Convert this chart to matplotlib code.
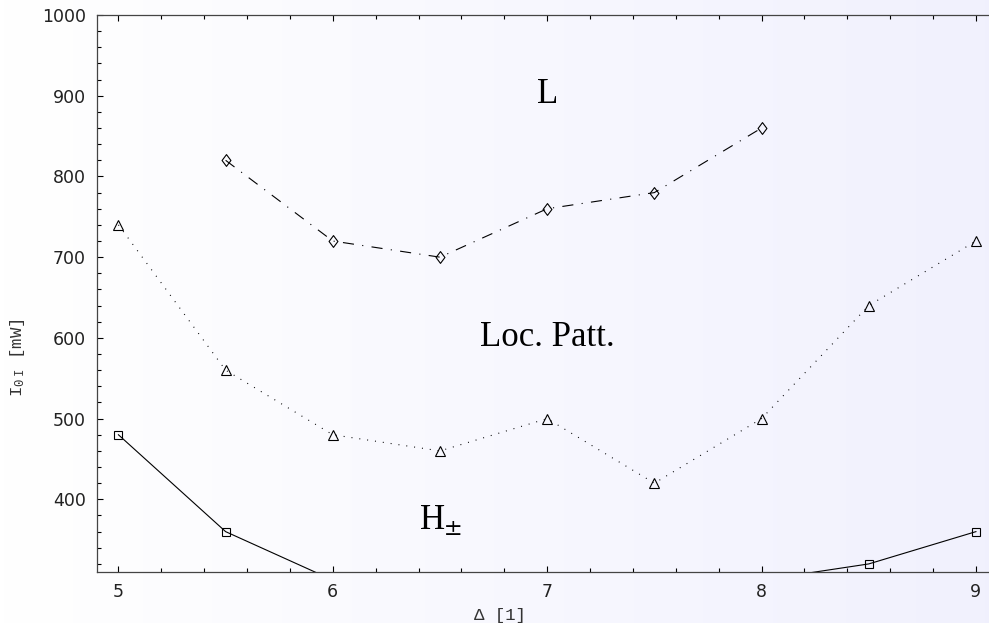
import numpy as np
import matplotlib.pyplot as plt
from matplotlib.ticker import MultipleLocator
from matplotlib.path import Path

# detuning values and threshold intensities for each boundary
delta = [5.0, 5.5, 6.0, 6.5, 7.0, 7.5, 8.0, 8.5, 9.0]
h_pm = [480, 360, 300, 285, 270, 285, 300, 320, 360]
loc_patt = [740, 560, 480, 460, 500, 420, 500, 640, 720]
delta_l = [5.5, 6.0, 6.5, 7.0, 7.5, 8.0]
l_curve = [820, 720, 700, 760, 780, 860]

plt.rcParams['lines.scale_dashes'] = False
plt.rcParams['mathtext.fontset'] = 'custom'
plt.rcParams['mathtext.rm'] = 'Liberation Mono'
plt.rcParams['mathtext.it'] = 'Liberation Mono'

# slightly narrow diamond
diamond = Path([(0, 1), (0.75, 0), (0, -1), (-0.75, 0), (0, 1)],
               [Path.MOVETO, Path.LINETO, Path.LINETO, Path.LINETO, Path.CLOSEPOLY])

fig = plt.figure(figsize=(9.89, 6.23), dpi=100)

# soft white-to-lavender background across the whole figure
bg = fig.add_axes([0, 0, 1, 1], zorder=-1)
grad = np.linspace(0, 1, 256).reshape(1, -1)
white = np.array([1.0, 1.0, 1.0])
lav = np.array([0.945, 0.945, 0.995])
img = white[None, None, :] * (1 - grad[..., None]) + lav[None, None, :] * grad[..., None]
bg.imshow(img, aspect='auto', extent=[0, 1, 0, 1])
bg.axis('off')

ax = fig.add_axes([97 / 989, 1 - 572 / 623, 892 / 989, 557 / 623])
ax.patch.set_alpha(0)

ax.plot(delta, h_pm, color='black', lw=0.8, marker='s', ms=6.3,
        mfc='none', mec='black', mew=0.8)
ax.plot(delta, loc_patt, color='black', lw=0.8, linestyle=(0, (0.7, 5)),
        marker='^', ms=6.5, mfc='none', mec='black', mew=0.8)
ax.plot(delta_l, l_curve, color='black', lw=0.8, linestyle=(0, (8, 6, 0.8, 6)),
        marker=diamond, ms=8.5, mfc='none', mec='black', mew=0.8)

ax.text(7.0, 902, "L", fontsize=25, family='Liberation Serif', ha='center', va='center')
ax.text(7.0, 600, "Loc. Patt.", fontsize=25, family='Liberation Serif', ha='center', va='center')
ax.text(6.4, 374, r"H$_{\pm}$", fontsize=25, family='Liberation Serif', ha='left', va='center',
        math_fontfamily='stix')

ax.set_xlim(4.9, 9.061)
ax.set_ylim(310, 1000)
ax.set_xticks([5, 6, 7, 8, 9])
ax.set_yticks([400, 500, 600, 700, 800, 900, 1000])
ax.xaxis.set_minor_locator(MultipleLocator(0.2))
ax.yaxis.set_minor_locator(MultipleLocator(20))
ax.tick_params(which='both', direction='in', top=True, right=False,
               labelsize=12.5, labelcolor='#222222', width=0.8)
ax.tick_params(which='major', length=4.5, pad=8)
ax.tick_params(which='minor', length=3)
for side in ['left', 'bottom', 'top']:
    ax.spines[side].set_color('#444444')
    ax.spines[side].set_linewidth(0.9)
ax.spines['right'].set_visible(False)

ax.set_xlabel("\u0394 [1]", family='Liberation Mono', fontsize=12.5, color='#333333')
ax.set_ylabel(r"I$_{\rm 0\ I}$ [mW]", family='Liberation Mono', fontsize=12.5, color='#333333')
ax.xaxis.set_label_coords(0.452, -0.065)
ax.yaxis.set_label_coords(-0.078, 0.384)

plt.savefig("out.png", dpi=100)
